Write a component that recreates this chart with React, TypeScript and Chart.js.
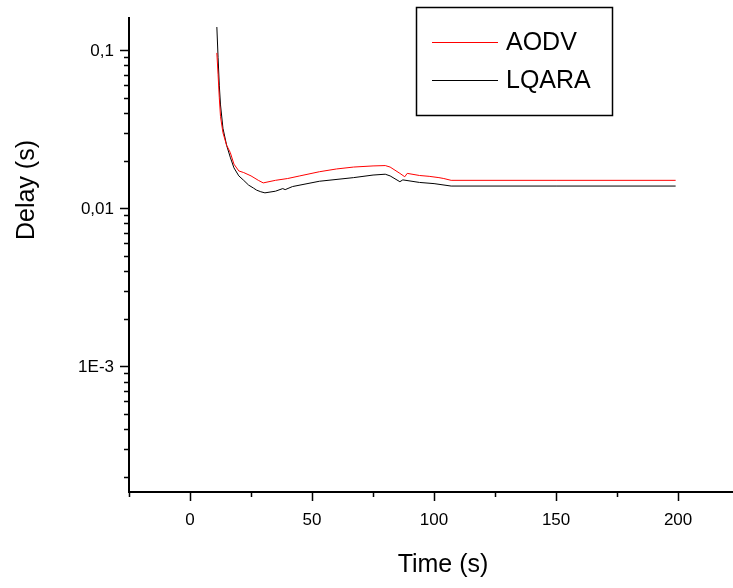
import React, { useEffect, useRef } from "react";
import { Chart, registerables } from "chart.js";

Chart.register(...registerables);

const aodvTime = [11, 11.5, 12, 12.5, 13.5, 15, 16.5, 18, 20, 22, 25, 28, 30, 35, 40, 45, 53, 60, 67, 75, 80, 82, 86, 88, 89, 94, 98, 102, 104, 107, 150, 199];
const aodvDelay = [0.096, 0.07, 0.05, 0.038, 0.03, 0.025, 0.0225, 0.019, 0.0172, 0.0168, 0.016, 0.015, 0.01445, 0.015, 0.0154, 0.016, 0.017, 0.0177, 0.0182, 0.0185, 0.0186, 0.0182, 0.0166, 0.0158, 0.0166, 0.0161, 0.0159, 0.0156, 0.0154, 0.015, 0.015, 0.015];

const lqaraTime = [11, 11.5, 12, 12.5, 13.5, 15, 16.5, 18, 20, 22, 24, 26, 27.3, 29, 30.7, 35, 38, 39, 42, 53, 67, 75, 80, 82, 86, 87.2, 94, 100, 107, 150, 199];
const lqaraDelay = [0.14, 0.09, 0.06, 0.045, 0.032, 0.025, 0.021, 0.018, 0.016, 0.015, 0.014, 0.0134, 0.013, 0.0127, 0.0125, 0.0128, 0.0133, 0.0131, 0.0137, 0.0148, 0.0156, 0.0162, 0.0164, 0.016, 0.0147, 0.0151, 0.01455, 0.0143, 0.0138, 0.0138, 0.0138];

const seriesNames = ["AODV", "LQARA"];
const seriesColors = ["#ff0000", "#000000"];

const xMajorTicks = [0, 50, 100, 150, 200];
const xMajorLabels = ["0", "50", "100", "150", "200"];
const xMinorTicks = [-25, 25, 75, 125, 175];
const yMajorTicks = [0.1, 0.01, 0.001];
const yMajorLabels = ["0,1", "0,01", "1E-3"];
const yMinorTicks = [
  2e-4, 3e-4, 4e-4, 5e-4, 6e-4, 7e-4, 8e-4, 9e-4,
  2e-3, 3e-3, 4e-3, 5e-3, 6e-3, 7e-3, 8e-3, 9e-3,
  2e-2, 3e-2, 4e-2, 5e-2, 6e-2, 7e-2, 8e-2, 9e-2,
];

const xTitle = "Time (s)";
const yTitle = "Delay (s)";

const FONT = '"Liberation Sans", Arial, sans-serif';

const originAxesPlugin = {
  id: "originAxes",
  afterDraw(chart: any) {
    const ctx = chart.ctx as CanvasRenderingContext2D;
    const xs = chart.scales.x;
    const ys = chart.scales.y;
    const a = chart.chartArea;
    ctx.save();
    ctx.strokeStyle = "#000";
    ctx.fillStyle = "#000";
    ctx.lineWidth = 2;
    // axis lines
    ctx.beginPath();
    ctx.moveTo(a.left, a.top);
    ctx.lineTo(a.left, a.bottom);
    ctx.lineTo(a.right, a.bottom);
    ctx.stroke();

    ctx.lineWidth = 1.5;
    // x ticks
    ctx.beginPath();
    xMajorTicks.forEach((v) => {
      const px = Math.round(xs.getPixelForValue(v)) + 0.5;
      ctx.moveTo(px, a.bottom);
      ctx.lineTo(px, a.bottom + 9);
    });
    xMinorTicks.forEach((v) => {
      const px = Math.round(xs.getPixelForValue(v)) + 0.5;
      ctx.moveTo(px, a.bottom);
      ctx.lineTo(px, a.bottom + 5);
    });
    // y ticks
    yMajorTicks.forEach((v) => {
      const py = Math.round(ys.getPixelForValue(v)) + 0.5;
      ctx.moveTo(a.left, py);
      ctx.lineTo(a.left - 9, py);
    });
    yMinorTicks.forEach((v) => {
      const py = Math.round(ys.getPixelForValue(v)) + 0.5;
      ctx.moveTo(a.left, py);
      ctx.lineTo(a.left - 5, py);
    });
    ctx.stroke();

    // tick labels
    ctx.font = `17px ${FONT}`;
    ctx.textAlign = "center";
    ctx.textBaseline = "middle";
    xMajorTicks.forEach((v, i) => {
      ctx.fillText(xMajorLabels[i], xs.getPixelForValue(v), a.bottom + 28);
    });
    ctx.textAlign = "right";
    yMajorTicks.forEach((v, i) => {
      ctx.fillText(yMajorLabels[i], a.left - 15, ys.getPixelForValue(v) + 1);
    });

    // titles
    ctx.font = `25px ${FONT}`;
    ctx.textAlign = "center";
    ctx.textBaseline = "middle";
    ctx.fillText(xTitle, 443, 565);
    ctx.save();
    ctx.translate(27, 190);
    ctx.rotate(-Math.PI / 2);
    ctx.fillText(yTitle, 0, 0);
    ctx.restore();

    // legend
    ctx.lineWidth = 1.5;
    ctx.strokeRect(416.5, 7.5, 196, 108);
    const rows = [42, 80];
    chart.data.datasets.forEach((ds: any, i: number) => {
      ctx.beginPath();
      ctx.strokeStyle = ds.borderColor;
      ctx.lineWidth = 1;
      ctx.moveTo(432, rows[i] + 0.5);
      ctx.lineTo(498, rows[i] + 0.5);
      ctx.stroke();
      ctx.fillStyle = "#000";
      ctx.font = `25px ${FONT}`;
      ctx.textAlign = "left";
      ctx.textBaseline = "middle";
      ctx.fillText(ds.label, 506, rows[i] + 1);
    });
    ctx.restore();
  },
};

export default function App() {
  const ref = useRef<HTMLCanvasElement | null>(null);
  useEffect(() => {
    if (!ref.current) return;
    const chart = new Chart(ref.current, {
      type: "line",
      data: {
        datasets: [
          {
            label: seriesNames[0],
            data: aodvTime.map((t, i) => ({ x: t, y: aodvDelay[i] })),
            borderColor: seriesColors[0],
            borderWidth: 1,
            pointRadius: 0,
            tension: 0,
            fill: false,
          },
          {
            label: seriesNames[1],
            data: lqaraTime.map((t, i) => ({ x: t, y: lqaraDelay[i] })),
            borderColor: seriesColors[1],
            borderWidth: 1,
            pointRadius: 0,
            tension: 0,
            fill: false,
          },
        ],
      },
      options: {
        responsive: false,
        animation: false,
        layout: { padding: { left: 129, top: 17, right: 0, bottom: 96 } },
        plugins: { legend: { display: false }, tooltip: { enabled: false } },
        scales: {
          x: { type: "linear", min: -25, max: 222.5, display: false },
          y: { type: "logarithmic", min: 1.6e-4, max: 0.162, display: false },
        },
      },
      plugins: [originAxesPlugin],
    });
    return () => chart.destroy();
  }, []);
  return (
    <div style={{ position: "fixed", left: 0, top: 0, width: 733, height: 588, background: "#fff" }}>
      <canvas ref={ref} width={733} height={588} style={{ display: "block" }} />
    </div>
  );
}
